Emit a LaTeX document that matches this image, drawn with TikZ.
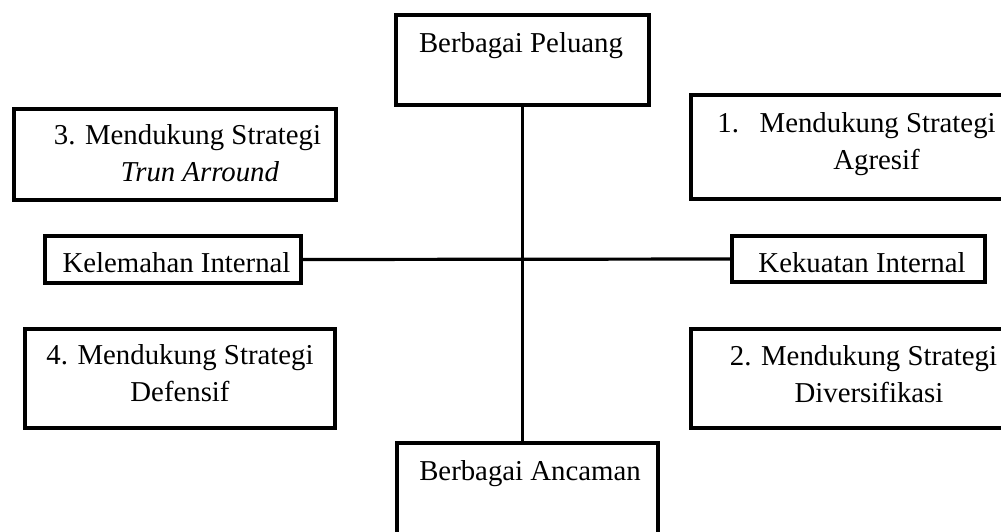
\documentclass[tikz,border=0pt]{standalone}
\usepackage{fontspec}
\setmainfont{Liberation Serif}
\begin{document}
\begin{tikzpicture}[x=0.5pt,y=-0.5pt,line join=miter,
			every node/.style={font=\fontsize{14.4pt}{18.5pt}\selectfont},
			kotak/.style={draw,rectangle,line width=1.8pt,inner sep=0pt},
			teks/.style={align=center,inner sep=0pt},
			garis/.style={line width=1.6pt}]
			\useasboundingbox (0,0) rectangle (1001,531);
			\clip (0,0) rectangle (1001,531);
			%%Kotak atas dan bawah
			\node[kotak,minimum width=126.5pt,minimum height=45pt] (peluang) at (522.5,60) {};
			\node[teks] (tPeluang) at (521,46) {Berbagai Peluang};
			\node[kotak,minimum width=130.5pt,minimum height=47pt] (ancaman) at (527.5,490) {};
			\node[teks] (tAncaman) at (530,474) {Berbagai Ancaman};
			%%Kotak kiri dan kanan
			\node[kotak,minimum width=128pt,minimum height=23.5pt] (kelemahan) at (173,259.5) {};
			\node[teks] (tKelemahan) at (176.5,263) {Kelemahan Internal};
			\node[kotak,minimum width=126.5pt,minimum height=23pt] (kekuatan) at (858.5,259) {};
			\node[teks] (tKekuatan) at (862,263) {Kekuatan Internal};
			%%Empat strategi
			\node[kotak,minimum width=165.5pt,minimum height=52pt] (s1) at (856.5,147) {};
			\node[teks] (t1) at (856.5,144) {1.\hspace{0.72em}Mendukung Strategi\\\hspace*{20pt}Agresif};
			\node[kotak,minimum width=172pt,minimum height=49.5pt] (s2) at (863,378.5) {};
			\node[teks] (t2) at (863.5,374) {2. Mendukung Strategi\\\hspace*{5.5pt}Diversifikasi};
			\node[kotak,minimum width=161pt,minimum height=45.5pt] (s3) at (175,154.5) {};
			\node[teks] (t3) at (187.5,153) {3. Mendukung Strategi\\\hspace*{12.5pt}\textit{Trun Arround}};
			\node[kotak,minimum width=155pt,minimum height=49.5pt] (s4) at (180,378.5) {};
			\node[teks] (t4) at (180,373) {4. Mendukung Strategi\\Defensif};
			%%Sumbu
			\draw[garis] (peluang.south) -- (peluang.south |- ancaman.north);
			\draw[garis] (kelemahan.east) -- (kekuatan.west);
		\end{tikzpicture}
\end{document}
